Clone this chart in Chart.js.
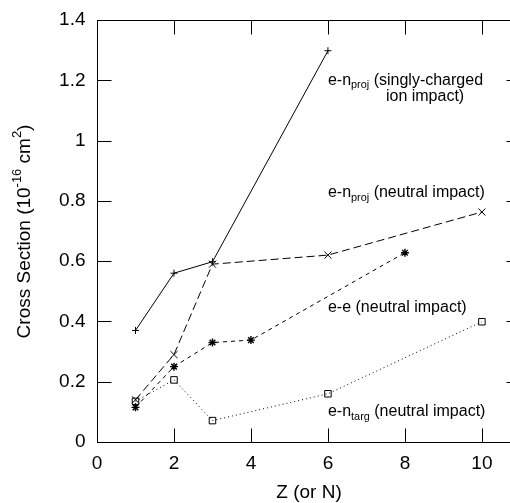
<!DOCTYPE html>
<html>
<head>
<meta charset="utf-8">
<script src="https://cdn.jsdelivr.net/npm/chart.js@4.4.0/dist/chart.umd.min.js"></script>
<style>
  html, body { margin: 0; padding: 0; background: #fff; }
  #wrap { width: 510px; height: 503px; }
</style>
</head>
<body>
<div id="wrap"><canvas id="plot1"></canvas></div>
<script>
// Datos
const zSingly = [1, 2, 3, 6];
const csSingly = [0.37, 0.56, 0.598, 1.298];

const zNeutral = [1, 2, 3, 6, 10];
const csNeutral = [0.14, 0.29, 0.59, 0.62, 0.763];

const zEE = [1, 2, 3, 4, 8];
const csEE = [0.115, 0.25, 0.33, 0.338, 0.628];

const zTarg = [1, 2, 3, 6, 10];
const csTarg = [0.135, 0.206, 0.071, 0.16, 0.399];

const xTicks = [0, 2, 4, 6, 8, 10];
const xTickLabels = ['0', '2', '4', '6', '8', '10'];
const yTicks = [0, 0.2, 0.4, 0.6, 0.8, 1, 1.2, 1.4];
const yTickLabels = ['0', '0.2', '0.4', '0.6', '0.8', '1', '1.2', '1.4'];

// el marco original llega a Z = 11, recortado por el borde de la imagen
const xFrameMax = 11;

const FONT = '"Liberation Sans", Arial, Helvetica, sans-serif';

let toPoints = (xs, ys) => xs.map((x, i) => ({x: x, y: ys[i]}));

// Dibuja texto con partes en subindice / superindice
let drawRich = (ctx, parts, x, y, size) => {
  let cx = x;
  parts.forEach(p => {
    let s = p.sub || p.sup ? size * 0.68 : size;
    ctx.font = `${s}px ${FONT}`;
    let dy = p.sub ? size * 0.32 : (p.sup ? -size * 0.42 : 0);
    ctx.fillText(p.t, cx, y + dy);
    cx += ctx.measureText(p.t).width;
  });
  return cx - x;
};

let richWidth = (ctx, parts, size) => {
  let w = 0;
  parts.forEach(p => {
    let s = p.sub || p.sup ? size * 0.68 : size;
    ctx.font = `${s}px ${FONT}`;
    w += ctx.measureText(p.t).width;
  });
  return w;
};

const marcoPlugin = {
  id: 'marco',
  afterDraw(chart) {
    const ctx = chart.ctx;
    const a = chart.chartArea;
    const xs = chart.scales.x;
    const ys = chart.scales.y;
    const tick = 14;
    const left = Math.round(xs.getPixelForValue(0)) + 0.5;
    const right = Math.round(xs.getPixelForValue(xFrameMax)) + 0.5;
    const top = Math.round(a.top) + 0.5;
    const bottom = Math.round(a.bottom) + 0.5;

    ctx.save();
    ctx.strokeStyle = '#000';
    ctx.fillStyle = '#000';
    ctx.lineWidth = 1;

    // marco
    ctx.strokeRect(left, top, right - left, bottom - top);

    // marcas hacia adentro
    ctx.beginPath();
    xTicks.forEach(v => {
      let px = Math.round(xs.getPixelForValue(v)) + 0.5;
      ctx.moveTo(px, bottom); ctx.lineTo(px, bottom - tick);
      ctx.moveTo(px, top); ctx.lineTo(px, top + tick);
    });
    yTicks.forEach(v => {
      let py = Math.round(ys.getPixelForValue(v)) + 0.5;
      ctx.moveTo(left, py); ctx.lineTo(left + tick, py);
      ctx.moveTo(right, py); ctx.lineTo(right - tick, py);
    });
    ctx.stroke();

    // etiquetas de los ejes
    ctx.font = `19px ${FONT}`;
    ctx.textBaseline = 'middle';
    ctx.textAlign = 'center';
    xTicks.forEach((v, i) => {
      ctx.fillText(xTickLabels[i], xs.getPixelForValue(v), bottom + 21);
    });
    ctx.textAlign = 'right';
    yTicks.forEach((v, i) => {
      ctx.fillText(yTickLabels[i], left - 12, ys.getPixelForValue(v));
    });

    // titulo eje x
    ctx.textAlign = 'center';
    ctx.fillText('Z (or N)', (left + right) / 2, bottom + 50);

    // titulo eje y
    const yTitle = [
      {t: 'Cross Section (10'}, {t: '-16', sup: true}, {t: ' cm'}, {t: '2', sup: true}, {t: ')'}
    ];
    ctx.save();
    ctx.translate(25, (top + bottom) / 2);
    ctx.rotate(-Math.PI / 2);
    ctx.textAlign = 'left';
    let w = richWidth(ctx, yTitle, 19);
    drawRich(ctx, yTitle, -w / 2, 0, 19);
    ctx.restore();

    // anotaciones
    ctx.textAlign = 'left';
    let lx = xs.getPixelForValue(6);
    drawRich(ctx, [{t: 'e-n'}, {t: 'proj', sub: true}, {t: ' (singly-charged'}], lx, ys.getPixelForValue(1.2), 16);
    drawRich(ctx, [{t: 'ion impact)'}], lx + 58, ys.getPixelForValue(1.145), 16);
    drawRich(ctx, [{t: 'e-n'}, {t: 'proj', sub: true}, {t: ' (neutral impact)'}], lx, ys.getPixelForValue(0.826), 16);
    drawRich(ctx, [{t: 'e-e (neutral impact)'}], lx, ys.getPixelForValue(0.445), 16);
    drawRich(ctx, [{t: 'e-n'}, {t: 'targ', sub: true}, {t: ' (neutral impact)'}], lx, ys.getPixelForValue(0.1), 16);

    ctx.restore();
  }
};

let plotRef = document.getElementById('plot1');

let config = {
  type: 'line',
  data: {
    datasets: [
      {
        label: 'e-n proj (singly-charged ion impact)',
        data: toPoints(zSingly, csSingly),
        borderColor: '#000',
        borderWidth: 1,
        pointStyle: 'cross',
        pointRadius: 3.5,
        pointBorderWidth: 1
      },
      {
        label: 'e-n proj (neutral impact)',
        data: toPoints(zNeutral, csNeutral),
        borderColor: '#000',
        borderWidth: 1,
        borderDash: [8, 4],
        pointStyle: 'crossRot',
        pointRadius: 5,
        pointBorderWidth: 1
      },
      {
        label: 'e-e (neutral impact)',
        data: toPoints(zEE, csEE),
        borderColor: '#000',
        borderWidth: 1,
        borderDash: [4, 4],
        pointStyle: 'star',
        pointRadius: 4,
        pointBorderWidth: 1.4
      },
      {
        label: 'e-n targ (neutral impact)',
        data: toPoints(zTarg, csTarg),
        borderColor: '#000',
        borderWidth: 1,
        borderDash: [1, 3],
        pointStyle: 'rect',
        pointRadius: 4.6,
        pointBorderWidth: 1,
        pointBackgroundColor: 'rgba(0,0,0,0)'
      }
    ]
  },
  options: {
    responsive: true,
    maintainAspectRatio: false,
    animation: false,
    layout: {
      autoPadding: false,
      padding: {left: 97, right: 0, top: 20, bottom: 61}
    },
    scales: {
      // 0 en x=97 y 10 en x=482 -> el borde derecho del lienzo cae en Z ~ 10.73
      x: {type: 'linear', min: 0, max: 10.73, display: false},
      y: {type: 'linear', min: 0, max: 1.4, display: false}
    },
    plugins: {
      legend: {display: false},
      tooltip: {enabled: false}
    }
  },
  plugins: [marcoPlugin]
};

let chart1 = new Chart(plotRef, config);
</script>
</body>
</html>
